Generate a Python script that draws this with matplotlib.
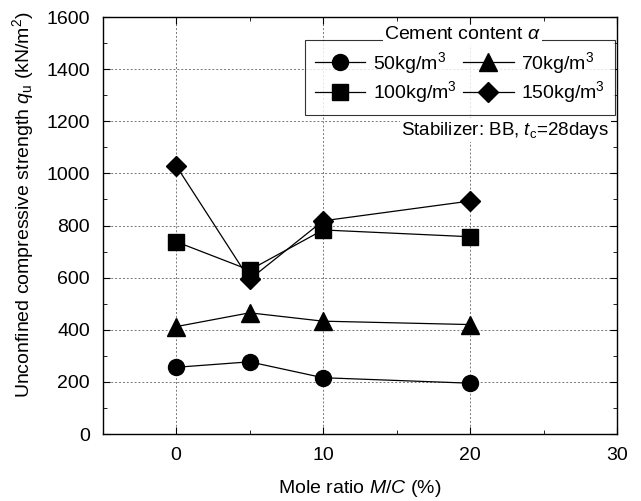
import matplotlib.pyplot as plt
from matplotlib.ticker import MultipleLocator

plt.rcParams['font.family'] = ['Liberation Sans', 'DejaVu Sans']
plt.rcParams['mathtext.fontset'] = 'custom'
plt.rcParams['mathtext.it'] = 'Liberation Sans:italic'
plt.rcParams['mathtext.rm'] = 'Liberation Sans'

mole_ratio = [0, 5, 10, 20]
q_50 = [256, 277, 216, 195]
q_70 = [412, 465, 433, 420]
q_100 = [738, 629, 783, 757]
q_150 = [1030, 593, 818, 894]

labels = ['50kg/m$^3$', '70kg/m$^3$', '100kg/m$^3$', '150kg/m$^3$']

fig = plt.figure(figsize=(6.41, 5.01), dpi=100)
ax = fig.add_axes([0.16, 0.1337, 0.8026, 0.8323])

h50, = ax.plot(mole_ratio, q_50, '-o', color='black', lw=0.9, ms=11.5, label=labels[0])
h70, = ax.plot(mole_ratio, q_70, '-^', color='black', lw=0.9, ms=13, label=labels[1])
h100, = ax.plot(mole_ratio, q_100, '-s', color='black', lw=0.9, ms=11, label=labels[2])
h150, = ax.plot(mole_ratio, q_150, '-D', color='black', lw=0.9, ms=10, label=labels[3])

ax.set_xlim(-5, 30)
ax.set_ylim(0, 1600)
ax.xaxis.set_major_locator(MultipleLocator(10))
ax.xaxis.set_minor_locator(MultipleLocator(5))
ax.yaxis.set_major_locator(MultipleLocator(200))
ax.yaxis.set_minor_locator(MultipleLocator(100))
ax.tick_params(which='both', direction='in', top=True, right=True, labelsize=14)
ax.tick_params(which='major', length=5, pad=9)
ax.tick_params(which='minor', length=3)
ax.grid(True, which='major', ls=(0, (2, 2)), color='#777777', lw=0.7)
for s in ax.spines.values():
    s.set_linewidth(1.0)

ax.set_xlabel('Mole ratio $M/C$ (%)', fontsize=14)
ax.xaxis.set_label_coords(0.5, -0.105)
ax.set_ylabel('Unconfined compressive strength $q_{\\mathrm{u}}$ (kN/m$^2$)', fontsize=14)
ax.yaxis.set_label_coords(-0.129, 0.55)

leg = ax.legend([h50, h100, h70, h150], [labels[0], labels[2], labels[1], labels[3]],
                ncol=2, loc='upper right', bbox_to_anchor=(0.996, 0.945), fontsize=14,
                frameon=True, fancybox=False, edgecolor='black', handlelength=2.6,
                handletextpad=0.4, columnspacing=0.3, labelspacing=0.2, borderpad=0.5,
                borderaxespad=0)
leg.get_frame().set_linewidth(0.8)
ax.text(0.70, 0.957, 'Cement content $\\alpha$', transform=ax.transAxes, fontsize=14,
        ha='center', va='center', zorder=10,
        bbox=dict(facecolor='white', edgecolor='none', pad=1))
ax.text(0.985, 0.729, 'Stabilizer: BB, $t_{\\mathrm{c}}$=28days', transform=ax.transAxes,
        fontsize=13.5, ha='right', va='center', zorder=10,
        bbox=dict(facecolor='white', edgecolor='none', pad=1))

fig.savefig('out.png', dpi=100)
